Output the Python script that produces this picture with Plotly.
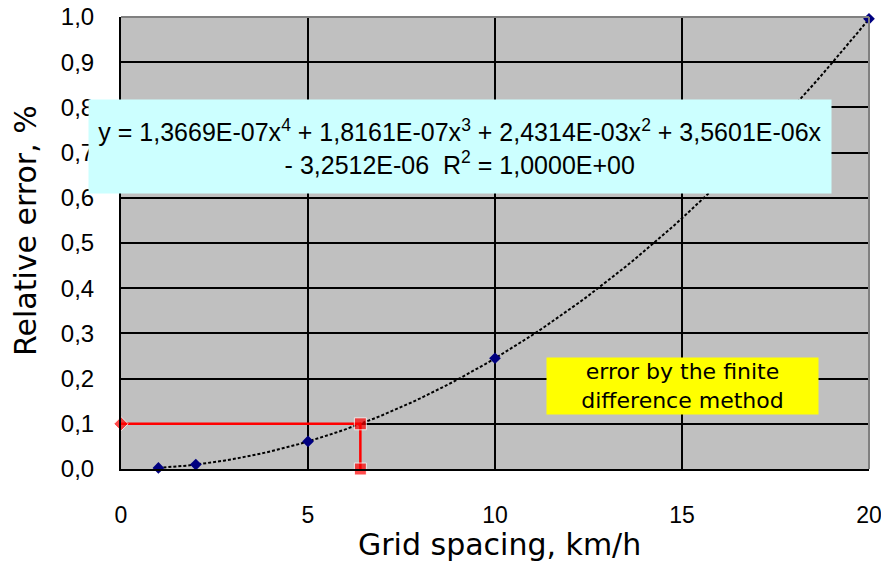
import plotly.graph_objects as go

# Data points
grid_spacing = [1, 2, 5, 10, 20]
rel_error = [0.0024, 0.0097, 0.061, 0.245, 0.996]

# Trend-line coefficients as printed on the chart (x^4, x^3, x^2, x, const)
trend_coefs = [1.3669e-07, 1.8161e-07, 2.4314e-03, 3.5601e-06, -3.2512e-06]
trend_x = [1 + i * 0.25 for i in range(77)]
trend_y = [sum(c * x ** (4 - k) for k, c in enumerate(trend_coefs)) for x in trend_x]

red_x = [0, 6.4, 6.4]
red_y = [0.1, 0.1, 0.0]

x_ticks = [0, 5, 10, 15, 20]
y_ticks = [0.0, 0.1, 0.2, 0.3, 0.4, 0.5, 0.6, 0.7, 0.8, 0.9, 1.0]

eq_text = ("y = 1,3669E-07x<sup>4</sup> + 1,8161E-07x<sup>3</sup> + 2,4314E-03x<sup>2</sup> + 3,5601E-06x"
           "<br>- 3,2512E-06  R<sup>2</sup> = 1,0000E+00")
note_text = "error by the finite<br>difference method"
x_title = "Grid spacing, km/h"
y_title = "Relative error, %"

fig = go.Figure()

fig.add_trace(go.Scatter(
    x=trend_x, y=trend_y, mode="lines",
    line=dict(color="black", width=2, dash="3px,2px"),
    hoverinfo="skip", showlegend=False))

fig.add_trace(go.Scatter(
    x=red_x, y=red_y, mode="lines+markers",
    line=dict(color="#FF0000", width=2.5),
    marker=dict(symbol=["diamond", "square", "square"], size=[11, 12, 12], color="#FF0000"),
    showlegend=False, cliponaxis=False))

fig.add_trace(go.Scatter(
    x=grid_spacing, y=rel_error, mode="markers",
    marker=dict(symbol="diamond", size=9, color="#000080"),
    showlegend=False, cliponaxis=False))

fig.update_layout(
    width=881, height=562,
    margin=dict(l=121, r=12, t=17, b=93),
    paper_bgcolor="white", plot_bgcolor="#C0C0C0",
    separators=", ",
    font=dict(family="Liberation Sans, Arial", color="black", size=16),
)

fig.update_xaxes(
    range=[0, 20], tickvals=x_ticks, tickformat="d",
    showgrid=True, gridcolor="black", gridwidth=2,
    showline=True, linecolor="black", linewidth=2,
    zeroline=False, automargin=False, ticklabeloverflow="allow",
    ticks="outside", ticklen=24, tickcolor="rgba(0,0,0,0)",
    tickfont=dict(size=23),
)
fig.update_yaxes(
    range=[0, 1.0], tickvals=y_ticks, tickformat=".1f",
    showgrid=True, gridcolor="black", gridwidth=2,
    showline=True, linecolor="black", linewidth=2,
    zeroline=False, automargin=False, ticklabeloverflow="allow",
    ticks="outside", ticklen=20, tickcolor="rgba(0,0,0,0)",
    tickfont=dict(size=24),
)

# gray frame top/right
fig.add_shape(type="line", xref="paper", yref="paper", x0=0, x1=1, y0=1, y1=1,
              line=dict(color="#808080", width=2))
fig.add_shape(type="line", xref="paper", yref="paper", x0=1, x1=1, y0=0, y1=1,
              line=dict(color="#808080", width=2))

# axis titles
fig.add_annotation(
    text=x_title, xref="paper", yref="paper", x=(499 - 121) / 748, y=(469 - 544) / 452,
    xanchor="center", yanchor="middle", showarrow=False, borderpad=0,
    font=dict(family="DejaVu Sans", size=30, color="black"))
fig.add_annotation(
    text=y_title, xref="paper", yref="paper", x=(25 - 121) / 748, y=(469 - 230) / 452,
    xanchor="center", yanchor="middle", showarrow=False, textangle=-90,
    font=dict(family="DejaVu Sans", size=30, color="black"))

fig.add_annotation(
    text=eq_text, xref="paper", yref="paper", x=(460 - 121) / 748, y=(469 - 146) / 452,
    xanchor="center", yanchor="middle", showarrow=False,
    bgcolor="#CCFFFF", width=740, height=91, align="center",
    font=dict(family="Liberation Sans, Arial", size=25, color="black"),
)
fig.add_annotation(
    text=note_text, xref="paper", yref="paper", x=(682.5 - 121) / 748, y=(469 - 386) / 452,
    xanchor="center", yanchor="middle", showarrow=False,
    bgcolor="#FFFF00", width=269, height=54, align="center",
    font=dict(family="DejaVu Sans", size=22, color="black"),
)

fig.write_html("out.html", config={"displayModeBar": False},
               post_script="document.body.style.margin='0';document.body.style.overflow='hidden';")
